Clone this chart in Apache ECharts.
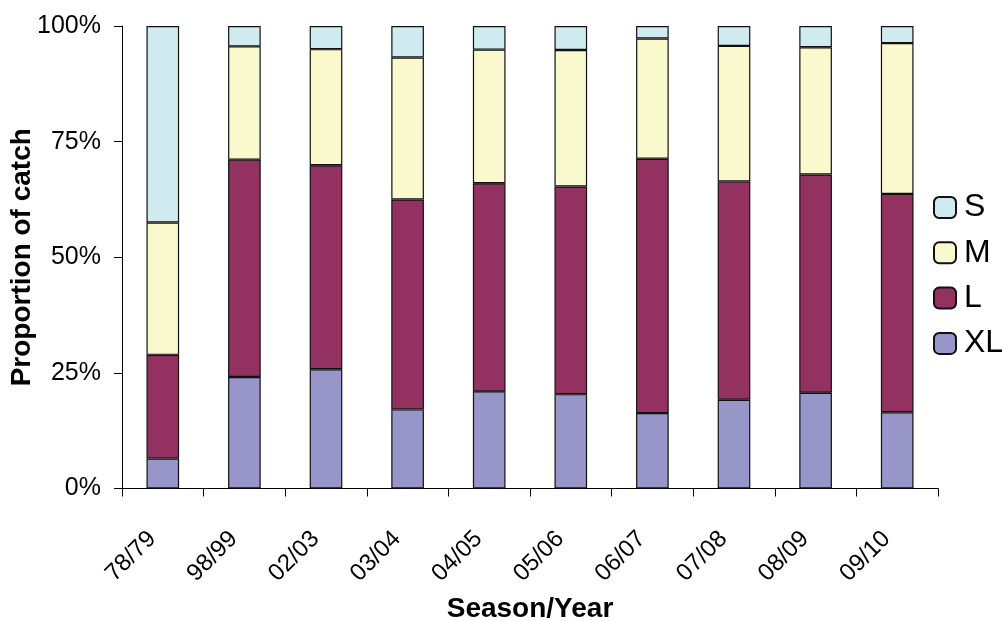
<!DOCTYPE html>
<html>
<head>
<meta charset="utf-8">
<script src="https://cdn.jsdelivr.net/npm/echarts@6/dist/echarts.min.js"></script>
<style>
  html, body { margin: 0; padding: 0; background: #fff; }
  #chart { width: 1004px; height: 621px; }
</style>
</head>
<body>
<div id="chart"></div>
<script>
// Seasons on the horizontal axis
const seasons = ['78/79', '98/99', '02/03', '03/04', '04/05', '05/06', '06/07', '07/08', '08/09', '09/10'];

// Share of the catch (%) by size class, per season
const xl = [6.5, 24.1, 25.8, 17.1, 21.0, 20.4, 16.3, 19.2, 20.7, 16.5];
const l  = [22.4, 47.0, 44.1, 45.4, 45.0, 44.9, 55.0, 47.2, 47.2, 47.2];
const m  = [28.6, 24.5, 25.1, 30.7, 28.9, 29.5, 26.0, 29.3, 27.5, 32.6];
const s  = [42.5, 4.4, 5.0, 6.8, 5.1, 5.2, 2.7, 4.3, 4.6, 3.7];

// Value axis ticks
const yTicks = [0, 25, 50, 75, 100];

const FONT = '"Liberation Sans", Arial, sans-serif';

function stackedBar(name, values, color) {
  return {
    name: name,
    type: 'bar',
    stack: 'catch',
    barWidth: '40%',
    data: values,
    itemStyle: { color: color, borderColor: '#111', borderWidth: 1.2 },
    emphasis: { disabled: true }
  };
}

const chart = echarts.init(document.getElementById('chart'), null, { renderer: 'canvas' });

chart.setOption({
  animation: false,
  backgroundColor: '#ffffff',
  textStyle: { fontFamily: FONT, color: '#000' },
  grid: { left: 122, right: 66, top: 26, bottom: 132.5, containLabel: false, outerBoundsMode: 'none' },
  legend: {
    orient: 'vertical',
    left: 928,
    top: 186.5,
    itemWidth: 22,
    itemHeight: 21,
    itemGap: 13.3,
    data: ['S', 'M', 'L', 'XL'],
    textStyle: { fontFamily: FONT, fontSize: 32, color: '#000', padding: [0, 0, 0, 3] },
    selectedMode: false
  },
  xAxis: {
    type: 'category',
    data: seasons,
    boundaryGap: true,
    name: 'Season/Year',
    nameLocation: 'middle',
    nameGap: 107,
    nameMoveOverlap: false,
    nameTextStyle: { fontFamily: FONT, fontSize: 28, fontWeight: 'bold', color: '#000' },
    axisLine: { lineStyle: { color: '#000', width: 1 } },
    axisTick: { show: true, length: 8, alignWithLabel: false, lineStyle: { color: '#000' } },
    axisLabel: { rotate: 45, margin: 36, padding: [0, 15, 0, 0], fontFamily: FONT, fontSize: 24, color: '#000' },
    splitLine: { show: false }
  },
  yAxis: {
    type: 'value',
    min: yTicks[0],
    max: yTicks[yTicks.length - 1],
    interval: yTicks[1] - yTicks[0],
    name: 'Proportion of catch',
    nameLocation: 'middle',
    nameGap: 86,
    nameMoveOverlap: false,
    nameTextStyle: { fontFamily: FONT, fontSize: 28, fontWeight: 'bold', color: '#000' },
    axisLine: { show: true, lineStyle: { color: '#000', width: 1 } },
    axisTick: { show: true, length: 8, lineStyle: { color: '#000' } },
    axisLabel: { formatter: '{value}%', margin: 21, fontFamily: FONT, fontSize: 25, color: '#000' },
    splitLine: { show: false }
  },
  series: [
    stackedBar('XL', xl, '#9895c9'),
    stackedBar('L', l, '#933260'),
    stackedBar('M', m, '#faf8cd'),
    stackedBar('S', s, '#cfebf0')
  ]
});
</script>
</body>
</html>
